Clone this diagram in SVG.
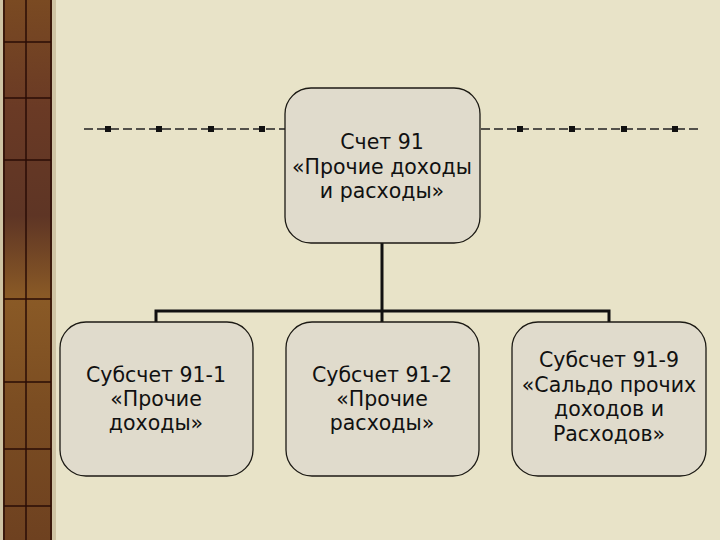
<svg xmlns="http://www.w3.org/2000/svg" width="720" height="540" viewBox="0 0 720 540">
<style>
.node rect{fill:#e0dbcc;stroke:#1c1a14;stroke-width:1.3}
.node text{font-family:"DejaVu Sans",Verdana,sans-serif;font-size:20.5px;fill:#111;text-anchor:middle}
.conn{stroke:#111;stroke-width:3;fill:none}
.dash{stroke:#222;stroke-width:1.5;stroke-dasharray:9 4;fill:none}
.sq{fill:#111}
.grid{stroke:#2a0c06;stroke-width:1.5}
</style>
<defs>
<linearGradient id="wood" x1="0" y1="0" x2="0" y2="1">
<stop offset="0" stop-color="#7a4a22"/>
<stop offset="0.2" stop-color="#6a3a25"/>
<stop offset="0.4" stop-color="#5e3525"/>
<stop offset="0.55" stop-color="#8a5a26"/>
<stop offset="0.75" stop-color="#7b4d22"/>
<stop offset="1" stop-color="#6e4120"/>
</linearGradient>
</defs>
<rect width="720" height="540" fill="#e8e3c8"/>
<g id="strip">
<rect x="0" y="0" width="56" height="540" fill="#cfc4a4"/>
<rect x="3" y="0" width="49" height="540" fill="url(#wood)"/>
<line class="grid" x1="4" y1="0" x2="4" y2="540"/>
<line class="grid" x1="51" y1="0" x2="51" y2="540"/>
<line class="grid" x1="26" y1="0" x2="26" y2="540"/>
<line class="grid" x1="4" y1="42" x2="51" y2="42"/>
<line class="grid" x1="4" y1="98" x2="51" y2="98"/>
<line class="grid" x1="4" y1="160" x2="51" y2="160"/>
<line class="grid" x1="4" y1="299" x2="51" y2="299"/>
<line class="grid" x1="4" y1="382" x2="51" y2="382"/>
<line class="grid" x1="4" y1="449" x2="51" y2="449"/>
<line class="grid" x1="4" y1="506" x2="51" y2="506"/>
</g>
<g id="decor">
<line class="dash" x1="84" y1="129" x2="285" y2="129"/>
<line class="dash" x1="481" y1="129" x2="700" y2="129"/>
<rect class="sq" x="105" y="126" width="6" height="6"/>
<rect class="sq" x="156" y="126" width="6" height="6"/>
<rect class="sq" x="208" y="126" width="6" height="6"/>
<rect class="sq" x="259" y="126" width="6" height="6"/>
<rect class="sq" x="517" y="126" width="6" height="6"/>
<rect class="sq" x="569" y="126" width="6" height="6"/>
<rect class="sq" x="621" y="126" width="6" height="6"/>
<rect class="sq" x="672" y="126" width="6" height="6"/>
</g>
<g id="connectors">
<path class="conn" d="M382 243 V311"/>
<path class="conn" d="M156 322 V311 H609 V322"/>
<path class="conn" d="M382 311 V322"/>
</g>
<g id="n0" class="node">
<rect x="285" y="88" width="195" height="155" rx="26"/>
<text x="382" y="149">Счет 91</text>
<text x="382" y="173.5">«Прочие доходы</text>
<text x="382" y="198">и расходы»</text>
</g>
<g id="n1" class="node">
<rect x="60" y="322" width="193" height="154" rx="26"/>
<text x="156" y="382">Субсчет 91-1</text>
<text x="156" y="406">«Прочие</text>
<text x="156" y="430">доходы»</text>
</g>
<g id="n2" class="node">
<rect x="286" y="322" width="193" height="154" rx="26"/>
<text x="382" y="382">Субсчет 91-2</text>
<text x="382" y="406">«Прочие</text>
<text x="382" y="430">расходы»</text>
</g>
<g id="n3" class="node">
<rect x="512" y="322" width="194" height="154" rx="26"/>
<text x="609" y="367">Субсчет 91-9</text>
<text x="609" y="391.5">«Сальдо прочих</text>
<text x="609" y="416">доходов и</text>
<text x="609" y="440.5">Расходов»</text>
</g>
</svg>
